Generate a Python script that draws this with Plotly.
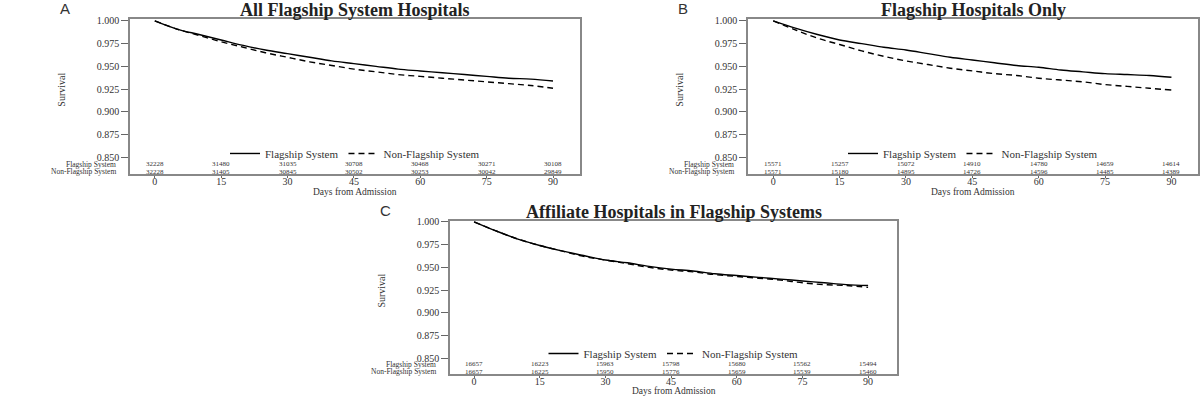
import plotly.graph_objects as go

days = [0, 5, 10, 15, 20, 25, 30, 35, 40, 45, 50, 55, 60, 65, 70, 75, 80, 85, 90]

a_flag = [1.000, 0.991, 0.985, 0.979, 0.973, 0.968, 0.964, 0.960, 0.956, 0.953, 0.950, 0.947, 0.945, 0.943, 0.941, 0.939, 0.937, 0.936, 0.934]
a_non = [1.000, 0.991, 0.984, 0.977, 0.971, 0.965, 0.960, 0.955, 0.951, 0.947, 0.944, 0.941, 0.939, 0.937, 0.935, 0.933, 0.931, 0.929, 0.926]
b_flag = [1.000, 0.992, 0.985, 0.979, 0.975, 0.971, 0.968, 0.964, 0.960, 0.957, 0.954, 0.951, 0.949, 0.946, 0.944, 0.942, 0.941, 0.940, 0.938]
b_non = [1.000, 0.990, 0.981, 0.974, 0.967, 0.961, 0.956, 0.952, 0.948, 0.945, 0.942, 0.940, 0.937, 0.935, 0.933, 0.930, 0.928, 0.926, 0.924]
c_flag = [1.000, 0.990, 0.981, 0.974, 0.968, 0.963, 0.958, 0.955, 0.951, 0.948, 0.946, 0.943, 0.941, 0.939, 0.937, 0.935, 0.933, 0.931, 0.930]
c_non = [1.000, 0.990, 0.981, 0.974, 0.968, 0.962, 0.958, 0.954, 0.950, 0.947, 0.945, 0.942, 0.940, 0.938, 0.936, 0.933, 0.931, 0.930, 0.928]

risk_days = [0, 15, 30, 45, 60, 75, 90]
a_risk_flag = [32228, 31480, 31035, 30708, 30468, 30271, 30108]
a_risk_non = [32228, 31405, 30845, 30502, 30253, 30042, 29849]
b_risk_flag = [15571, 15257, 15072, 14910, 14780, 14659, 14614]
b_risk_non = [15571, 15180, 14895, 14726, 14596, 14485, 14389]
c_risk_flag = [16657, 16223, 15963, 15798, 15680, 15562, 15494]
c_risk_non = [16657, 16225, 15950, 15776, 15659, 15539, 15460]

y_ticks = [0.850, 0.875, 0.900, 0.925, 0.950, 0.975, 1.000]
x_ticks = [0, 15, 30, 45, 60, 75, 90]

titles = ["All Flagship System Hospitals", "Flagship Hospitals Only", "Affiliate Hospitals in Flagship Systems"]
letters = ["A", "B", "C"]
series_names = ["Flagship System", "Non-Flagship System"]

W, H = 1200, 396
SERIF = "Liberation Serif, Times New Roman, serif"

def px(x):
    return x / W

def py(y):
    return 1 - y / H

panels = [
    dict(l=130, r=580, t=15, b=172, xr=[-5.6, 96.1], yr=[0.8315, 1.0022],
         flag=a_flag, non=a_non, rf=a_risk_flag, rn=a_risk_non),
    dict(l=748, r=1198, t=15, b=172, xr=[-5.7, 96.0], yr=[0.8315, 1.0022],
         flag=b_flag, non=b_non, rf=b_risk_flag, rn=b_risk_non),
    dict(l=450, r=897, t=219, b=374, xr=[-5.5, 96.6], yr=[0.8326, 1.0011],
         flag=c_flag, non=c_non, rf=c_risk_flag, rn=c_risk_non),
]

fig = go.Figure()
annotations = []
layout = {}

for i, p in enumerate(panels):
    n = "" if i == 0 else str(i + 1)
    xa, ya = "x" + n, "y" + n
    lg = "legend" + n
    fig.add_trace(go.Scatter(x=days, y=p["flag"], mode="lines", name=series_names[0],
                             line=dict(color="black", width=1.4, shape="spline"),
                             xaxis=xa, yaxis=ya, legend=lg))
    fig.add_trace(go.Scatter(x=days, y=p["non"], mode="lines", name=series_names[1],
                             line=dict(color="black", width=1.4, dash="6px,4px", shape="spline"),
                             xaxis=xa, yaxis=ya, legend=lg))
    layout["xaxis" + n] = dict(
        domain=[px(p["l"]), px(p["r"])], range=p["xr"], anchor=ya,
        tickvals=x_ticks, ticks="outside", ticklen=2, tickcolor="#666",
        ticklabelstandoff=-5,
        showline=True, mirror=True, linecolor="#888", linewidth=1.5,
        showgrid=False, zeroline=False,
        tickfont=dict(family=SERIF, size=10, color="#333"),
    )
    layout["yaxis" + n] = dict(
        domain=[py(p["b"]), py(p["t"])], range=p["yr"], anchor=xa,
        tickvals=y_ticks, tickformat=".3f", ticks="outside", ticklen=7, tickcolor="#666",
        showline=True, mirror=True, linecolor="#888", linewidth=1.5,
        showgrid=False, zeroline=False,
        tickfont=dict(family=SERIF, size=10, color="#333"),
    )
    leg_y = p["b"] - 21
    layout[lg] = dict(
        orientation="h", x=(px(p["l"]) + px(p["r"])) / 2, xanchor="center",
        y=py(leg_y), yanchor="middle", bgcolor="rgba(0,0,0,0)",
        font=dict(family=SERIF, size=11, color="#333"), tracegroupgap=0,
        itemwidth=30,
    )
    yscale = (p["b"] - p["t"]) / (p["yr"][1] - p["yr"][0])
    row1 = p["yr"][0] + 10.3 / yscale
    row2 = p["yr"][0] + 2.7 / yscale
    for d, v in zip(risk_days, p["rf"]):
        annotations.append(dict(x=d, y=row1, xref=xa, yref=ya, yanchor="middle",
                                text=str(v), showarrow=False, borderpad=0,
                                font=dict(family=SERIF, size=7, color="#333")))
    for d, v in zip(risk_days, p["rn"]):
        annotations.append(dict(x=d, y=row2, xref=xa, yref=ya, yanchor="middle",
                                text=str(v), showarrow=False, borderpad=0,
                                font=dict(family=SERIF, size=7, color="#333")))
    annotations.append(dict(x=px(p["l"] - 13), y=py(p["b"] - 10.3), xref="paper", yref="paper",
                            xanchor="right", yanchor="middle", text=series_names[0], showarrow=False,
                            borderpad=0, font=dict(family=SERIF, size=7.5, color="#333")))
    annotations.append(dict(x=px(p["l"] - 13), y=py(p["b"] - 2.7), xref="paper", yref="paper",
                            xanchor="right", yanchor="middle", text=series_names[1], showarrow=False,
                            borderpad=0, font=dict(family=SERIF, size=7.5, color="#333")))
    annotations.append(dict(x=px(p["l"] - 68), y=py((p["t"] + p["b"] - 14) / 2), xref="paper", yref="paper",
                            xanchor="center", yanchor="middle", text="Survival", textangle=-90,
                            showarrow=False, font=dict(family=SERIF, size=10, color="#333")))
    annotations.append(dict(x=(px(p["l"]) + px(p["r"])) / 2, y=py(min(p["b"] + 18, 391)), xref="paper", yref="paper",
                            xanchor="center", yanchor="middle", text="Days from Admission",
                            showarrow=False, borderpad=0, font=dict(family=SERIF, size=9.5, color="#333")))
    annotations.append(dict(x=(px(p["l"]) + px(p["r"])) / 2, y=py(p["t"] - 9), xref="paper", yref="paper",
                            xanchor="center", yanchor="middle", text="<b>" + titles[i] + "</b>",
                            showarrow=False, font=dict(family=SERIF, size=18, color="#222")))
    annotations.append(dict(x=px(p["l"] - 65), y=py(p["t"] - 10), xref="paper", yref="paper",
                            xanchor="center", yanchor="middle", text=letters[i],
                            showarrow=False, font=dict(family="Liberation Sans, Arial, sans-serif", size=15, color="#333")))

fig.update_layout(
    width=W, height=H, margin=dict(l=0, r=0, t=0, b=0),
    paper_bgcolor="white", plot_bgcolor="white",
    annotations=annotations, **layout,
)

fig.write_html("out.html", config={"displayModeBar": False},
               post_script="document.body.style.margin='0';document.body.style.overflow='hidden';")
